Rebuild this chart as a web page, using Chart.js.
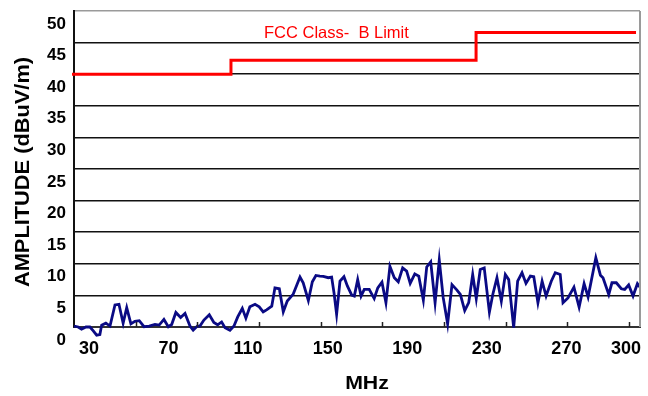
<!DOCTYPE html>
<html>
<head>
<meta charset="utf-8">
<script src="https://cdn.jsdelivr.net/npm/chart.js@4/dist/chart.umd.min.js"></script>
<style>
  html, body { margin: 0; padding: 0; background: #fff; }
  #emiChart { display: block; }
</style>
</head>
<body>
<canvas id="emiChart" width="648" height="396"></canvas>
<script>
// measured field strength, MHz vs dBuV/m
const freqs = [
  22.5, 24.6, 26.3, 28.5, 30.5, 32.2, 33.9, 35.5, 36.4, 38.5, 40.6, 43.1, 45.1, 47.2, 49.0,
  51.1, 53.1, 55.3, 57.7, 60.3, 63.2, 65.3, 67.7, 69.9, 71.6, 73.7, 76.1, 78.3, 80.8, 82.4,
  84.5, 85.8, 87.8, 90.5, 92.8, 94.7, 96.7, 98.4, 100.9, 102.9, 104.8, 107.1, 108.9, 110.9, 113.5,
  115.6, 117.6, 119.3, 121.9, 123.5, 125.7, 127.7, 129.7, 132.7, 136.1, 137.7, 140.3, 142.3, 144.1, 146.1,
  147.8, 150.3, 152.0, 153.2, 154.5, 156.2, 158.2, 159.9, 162.1, 163.4, 165.1, 166.8, 168.4, 170.9, 173.4,
  175.2, 177.3, 179.3, 181.3, 183.5, 185.5, 187.7, 189.7, 191.5, 193.8, 195.8, 198.1, 199.8, 201.8, 204.0,
  206.1, 208.1, 210.3, 212.5, 215.0, 216.7, 218.9, 220.9, 222.9, 224.7, 226.7, 228.7, 231.3, 233.0, 235.1,
  237.3, 239.3, 241.0, 243.5, 245.5, 247.7, 249.7, 251.9, 253.6, 255.7, 257.8, 259.8, 262.4, 264.4, 266.9,
  268.3, 270.8, 273.8, 276.4, 278.9, 280.9, 284.8, 287.1, 288.4, 291.3, 292.9, 295.1, 297.6, 299.3, 301.3,
  303.5, 305.7, 307.0
];
const levels = [
  0.15, 0.0, -0.35, 0.0, 0.0, -0.6, -1.3, -1.2, 0.3, 0.6, 0.15, 3.5, 3.6, 0.6, 3.05,
  0.5, 0.9, 1.0, 0.05, 0.15, 0.4, 0.3, 1.2, 0.05, 0.4, 2.3, 1.5, 2.15, 0.15, -0.5,
  0.15, 0.15, 1.1, 1.95, 0.7, 0.35, 0.8, -0.1, -0.5, 0.15, 1.6, 2.95, 1.4, 3.2, 3.6,
  3.2, 2.4, 2.7, 3.3, 6.2, 6.05, 2.4, 4.1, 5.2, 7.9, 7.0, 4.2, 7.15, 8.15, 8.05,
  8.0, 7.8, 7.9, 5.4, 2.0, 7.25, 7.95, 6.5, 5.05, 4.9, 7.5, 4.9, 5.95, 5.95, 4.5,
  6.2, 7.1, 3.85, 9.6, 7.8, 7.15, 9.35, 8.85, 6.9, 8.4, 8.05, 4.25, 9.5, 10.3, 3.85,
  10.6, 4.6, 0.5, 6.7, 5.85, 5.15, 2.6, 3.85, 8.3, 4.5, 9.1, 9.35, 2.35, 5.15, 7.8,
  4.1, 8.3, 7.5, -0.1, 7.25, 8.6, 6.9, 8.05, 7.95, 3.85, 7.25, 4.9, 7.25, 8.6, 8.3,
  3.85, 4.6, 6.3, 3.15, 6.85, 4.75, 10.95, 8.2, 7.8, 5.15, 7.0, 7.0, 6.05, 5.95, 6.65,
  4.9, 6.85, 6.3
];

// limit line corners (stepped)
const limitFreqs = [21.5, 101.4, 224.6, 305];
const limitLevels = [40, 42.2, 46.6, 46.6];

const xLabels = [30, 70, 110, 150, 190, 230, 270, 300];
const xTickMarks = [53.5, 84.5, 115.5, 146.5, 177.5, 208.5, 239.5, 270.5, 301.5];
const yTicks = [0, 5, 10, 15, 20, 25, 30, 35, 40, 45, 50];

const FONT = 'Arial, "Liberation Sans", sans-serif';

const extras = {
  id: 'extras',
  afterDatasetsDraw(chart) {
    const { ctx, chartArea: a, scales } = chart;
    const x = scales.x, y = scales.y;
    ctx.save();

    // right border
    ctx.strokeStyle = '#9a9a9a';
    ctx.lineWidth = 2;
    ctx.beginPath();
    ctx.moveTo(a.right, a.top);
    ctx.lineTo(a.right, a.bottom);
    ctx.stroke();

    // small inward tick marks on the frequency axis
    ctx.strokeStyle = '#222';
    ctx.lineWidth = 1.5;
    xTickMarks.forEach(v => {
      const px = Math.round(x.getPixelForValue(v)) + 0.5;
      ctx.beginPath();
      ctx.moveTo(px, a.bottom);
      ctx.lineTo(px, a.bottom - 5);
      ctx.stroke();
    });

    // limit label
    ctx.fillStyle = '#ff0000';
    ctx.font = '16.5px ' + FONT;
    ctx.textAlign = 'left';
    ctx.textBaseline = 'middle';
    ctx.fillText('FCC Class-  B Limit', x.getPixelForValue(118), y.getPixelForValue(46.4));

    // axis titles
    ctx.fillStyle = '#000';
    ctx.textAlign = 'center';
    ctx.save();
    ctx.translate((a.left + a.right) / 2 + 10, a.bottom + 57);
    ctx.scale(1.12, 1);
    ctx.font = 'bold 19px ' + FONT;
    ctx.fillText('MHz', 0, 0);
    ctx.restore();

    ctx.translate(a.left - 51, (a.top + a.bottom) / 2 + 3);
    ctx.rotate(-Math.PI / 2);
    ctx.scale(1.09, 1);
    ctx.font = 'bold 20px ' + FONT;
    ctx.fillText('AMPLITUDE (dBuV/m)', 0, 0);
    ctx.restore();
  }
};

new Chart(document.getElementById('emiChart'), {
  type: 'line',
  data: {
    datasets: [
      {
        label: 'Measured',
        data: freqs.map((f, i) => ({ x: f, y: levels[i] })),
        borderColor: '#0a0a84',
        borderWidth: 2.8,
        pointRadius: 0,
        tension: 0,
        clip: false
      },
      {
        label: 'FCC Class B',
        data: limitFreqs.map((f, i) => ({ x: f, y: limitLevels[i] })),
        borderColor: '#ff0000',
        borderWidth: 3,
        pointRadius: 0,
        stepped: true,
        clip: false
      }
    ]
  },
  options: {
    responsive: false,
    animation: false,
    devicePixelRatio: 1,
    layout: { padding: { top: 11, right: 8, left: 0, bottom: 0 } },
    plugins: {
      legend: { display: false },
      tooltip: { enabled: false }
    },
    scales: {
      x: {
        type: 'linear',
        min: 22.5,
        max: 307,
        afterBuildTicks: axis => { axis.ticks = xLabels.map(v => ({ value: v })); },
        afterFit: axis => { axis.height = 69; },
        grid: { display: false },
        border: { display: true, color: '#333', width: 2 },
        ticks: {
          autoSkip: false,
          maxRotation: 0,
          padding: 3,
          color: '#000',
          font: { family: FONT, size: 18, weight: 'bold' }
        }
      },
      y: {
        min: 0,
        max: 50,
        afterBuildTicks: axis => { axis.ticks = yTicks.map(v => ({ value: v })); },
        afterFit: axis => {
          axis.width = 74;
          axis.paddingTop = 0;
          axis.paddingBottom = 0;
        },
        grid: {
          drawTicks: false,
          lineWidth: 1.5,
          color: c => (c.tick && c.tick.value === 50 ? '#9a9a9a' : '#111')
        },
        border: { display: true, color: '#111', width: 2 },
        ticks: {
          padding: 8,
          labelOffset: 13,
          color: '#000',
          font: { family: FONT, size: 17, weight: 'bold' }
        }
      }
    }
  },
  plugins: [extras]
});
</script>
</body>
</html>
